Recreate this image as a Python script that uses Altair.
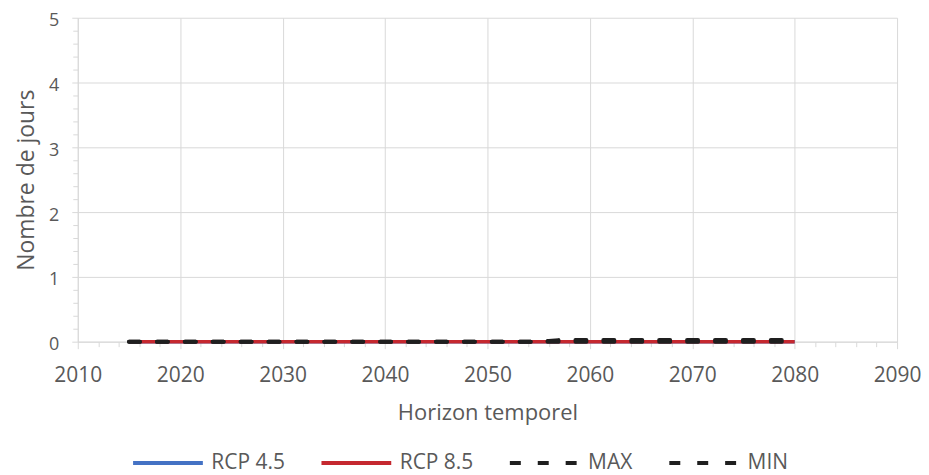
import altair as alt
import pandas as pd

# ---- data ----
annees = [2015, 2016, 2017, 2018, 2019, 2020, 2021, 2022, 2023, 2024,
          2025, 2026, 2027, 2028, 2029, 2030, 2031, 2032, 2033, 2034,
          2035, 2036, 2037, 2038, 2039, 2040, 2041, 2042, 2043, 2044,
          2045, 2046, 2047, 2048, 2049, 2050, 2051, 2052, 2053, 2054,
          2055, 2056, 2057, 2058, 2059, 2060, 2061, 2062, 2063, 2064,
          2065, 2066, 2067, 2068, 2069, 2070, 2071, 2072, 2073, 2074,
          2075, 2076, 2077, 2078, 2079, 2080]

rcp45 = [0, 0, 0, 0, 0, 0, 0, 0, 0, 0,
         0, 0, 0, 0, 0, 0, 0, 0, 0, 0,
         0, 0, 0, 0, 0, 0, 0, 0, 0, 0,
         0, 0, 0, 0, 0, 0, 0, 0, 0, 0,
         0, 0, 0, 0, 0, 0, 0, 0, 0, 0,
         0, 0, 0, 0, 0, 0, 0, 0, 0, 0,
         0, 0, 0, 0, 0, 0]

rcp85 = [0, 0, 0, 0, 0, 0, 0, 0, 0, 0,
         0, 0, 0, 0, 0, 0, 0, 0, 0, 0,
         0, 0, 0, 0, 0, 0, 0, 0, 0, 0,
         0, 0, 0, 0, 0, 0, 0, 0, 0, 0,
         0, 0, 0, 0, 0, 0, 0, 0, 0, 0,
         0, 0, 0, 0, 0, 0, 0, 0, 0, 0,
         0, 0, 0, 0, 0, 0]

maxi = [0, 0, 0, 0, 0, 0, 0, 0, 0, 0,
        0, 0, 0, 0, 0, 0, 0, 0, 0, 0,
        0, 0, 0, 0, 0, 0, 0, 0, 0, 0,
        0, 0, 0, 0, 0, 0, 0, 0, 0, 0,
        0, 0.01, 0.025, 0.025, 0.025, 0.025, 0.025, 0.025, 0.025, 0.025,
        0.025, 0.025, 0.025, 0.025, 0.025, 0.025, 0.025, 0.025, 0.025, 0.025,
        0.025, 0.025, 0.025, 0.025, 0.025, 0.025]

mini = [0, 0, 0, 0, 0, 0, 0, 0, 0, 0,
        0, 0, 0, 0, 0, 0, 0, 0, 0, 0,
        0, 0, 0, 0, 0, 0, 0, 0, 0, 0,
        0, 0, 0, 0, 0, 0, 0, 0, 0, 0,
        0, 0, 0, 0, 0, 0, 0, 0, 0, 0,
        0, 0, 0, 0, 0, 0, 0, 0, 0, 0,
        0, 0, 0, 0, 0, 0]

series = ["RCP 4.5", "RCP 8.5", "MAX", "MIN"]
couleurs = ["#4472C4", "#C5282F", "#1F1F1F", "#1F1F1F"]
tirets = [[1, 0], [1, 0], [11, 17], [11, 17]]

x_ticks = [2010, 2012, 2014, 2016, 2018, 2020, 2022, 2024, 2026, 2028,
           2030, 2032, 2034, 2036, 2038, 2040, 2042, 2044, 2046, 2048,
           2050, 2052, 2054, 2056, 2058, 2060, 2062, 2064, 2066, 2068,
           2070, 2072, 2074, 2076, 2078, 2080, 2082, 2084, 2086, 2088, 2090]
y_ticks = [0, 0.2, 0.4, 0.6, 0.8, 1, 1.2, 1.4, 1.6, 1.8, 2, 2.2, 2.4, 2.6,
           2.8, 3, 3.2, 3.4, 3.6, 3.8, 4, 4.2, 4.4, 4.6, 4.8, 5]

rows = []
for nom, vals in zip(series, [rcp45, rcp85, maxi, mini]):
    for a, v in zip(annees, vals):
        rows.append({"annee": a, "valeur": v, "serie": nom})
df = pd.DataFrame(rows)

GRID = "#D9D9D9"
TXT = "#595959"
FONT = "Open Sans"

x_major = "datum.value % 10 === 0"
y_major = "abs(datum.value - round(datum.value)) < 0.001"

x_enc = alt.X(
    "annee:Q",
    title="Horizon temporel",
    scale=alt.Scale(domain=[2010, 2090], nice=False, zero=False),
    axis=alt.Axis(
        values=x_ticks,
        labelExpr=f"{x_major} ? format(datum.value, 'd') : ''",
        labelOverlap=False,
        labelFlush=False,
        labelFontSize=21,
        gridColor={"condition": {"test": x_major, "value": GRID}, "value": "transparent"},
        tickSize={"condition": {"test": x_major, "value": 7}, "value": 5},
        tickColor=GRID,
        domainColor=GRID,
        labelPadding=16,
        titlePadding=17,
        titleFontSize=22,
    ),
)
y_enc = alt.Y(
    "valeur:Q",
    title="Nombre de jours",
    scale=alt.Scale(domain=[0, 5], nice=False),
    axis=alt.Axis(
        values=y_ticks,
        labelExpr=f"{y_major} ? format(datum.value, 'd') : ''",
        labelOverlap=False,
        labelFlush=False,
        labelFontSize=18,
        labelOffset=3,
        gridColor={"condition": {"test": y_major, "value": GRID}, "value": "transparent"},
        tickSize={"condition": {"test": y_major, "value": 6}, "value": 5},
        tickColor=GRID,
        domainColor=GRID,
        labelPadding=13,
        titlePadding=10,
        titleFontSize=23,
    ),
)
leg = alt.Legend(
    title=None,
    orient="none",
    legendX=45,
    legendY=436,
    direction="horizontal",
    symbolType="M0,0L70,0",
    symbolSize=4,
    symbolStrokeWidth=4,
    labelOffset=68,
    columnPadding=26,
    padding=0,
    labelFont=FONT,
    labelFontSize=21,
    labelColor=TXT,
)
color_enc = alt.Color(
    "serie:N",
    sort=series,
    scale=alt.Scale(domain=series, range=couleurs),
    legend=leg,
)
dash_enc = alt.StrokeDash(
    "serie:N",
    sort=series,
    scale=alt.Scale(domain=series, range=tirets),
    legend=leg,
)

base = alt.Chart(df).encode(x=x_enc, y=y_enc, color=color_enc, strokeDash=dash_enc)

blue = base.transform_filter("datum.serie === 'RCP 4.5'").mark_line(strokeWidth=3.5)
red = base.transform_filter("datum.serie === 'RCP 8.5'").mark_line(strokeWidth=3.5)
dashed = base.transform_filter("datum.serie === 'MAX' || datum.serie === 'MIN'").mark_line(
    strokeWidth=4, strokeCap="round"
)

chart = (
    alt.layer(blue, red, dashed)
    .properties(
        width=822,
        height=325,
        autosize=alt.AutoSizeParams(type="none"),
        padding={"left": 70, "top": 9, "right": 24, "bottom": 135},
    )
    .configure_view(strokeWidth=0)
    .configure_axis(
        labelFont=FONT,
        labelColor=TXT,
        titleFont=FONT,
        titleFontWeight="normal",
        titleColor=TXT,
    )
)

chart.save("out.html", embed_options={"renderer": "svg", "actions": False})
